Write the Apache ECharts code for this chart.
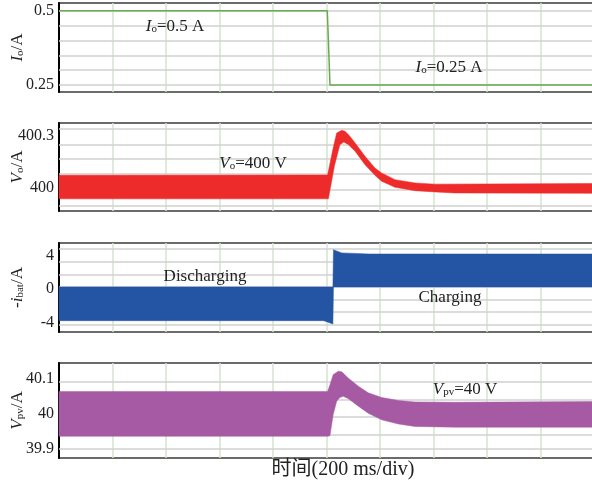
<!DOCTYPE html>
<html>
<head>
<meta charset="utf-8">
<script src="https://cdn.jsdelivr.net/npm/echarts@6/dist/echarts.min.js"></script>
<style>
html, body { margin: 0; padding: 0; background: #fff; }
#main { width: 592px; height: 490px; }
</style>
</head>
<body>
<div id="main"></div>
<script>
// time axis: 0..2000 ms, 200 ms/div
var timeTicks = [0, 2000, 200];

// Io step (A)
var ioData = [[0, 0.5], [1003, 0.5], [1013, 0.25], [2000, 0.25]];

// Vo ripple envelope (V)
var voUpper = [[0, 400.073], [1004, 400.075], [1025, 400.231], [1038, 400.317], [1057, 400.333], [1069, 400.327],
	[1082, 400.308], [1107, 400.26], [1144, 400.183], [1181, 400.115], [1206, 400.087], [1256, 400.048],
	[1331, 400.029], [1406, 400.022], [2000, 400.026]];
var voLower = [[0, 399.937], [1007, 399.937], [1030, 400.13], [1050, 400.25], [1065, 400.265], [1082, 400.25],
	[1107, 400.212], [1144, 400.134], [1181, 400.073], [1206, 400.039], [1256, 400.004], [1331, 399.984],
	[1406, 399.977], [1480, 399.971], [2000, 399.969]];

// -ibat envelope (A)
var ibUpper = [[0, 0.25], [1024, 0.25], [1026, 4.68], [1057, 4.3], [1160, 4.17], [2000, 4.17]];
var ibLower = [[0, -3.77], [990, -3.77], [1024, -4.17], [1026, 0.25], [2000, 0.25]];

// Vpv envelope (V)
var pvUpper = [[0, 40.063], [1004, 40.063], [1013, 40.082], [1025, 40.111], [1044, 40.121], [1057, 40.119],
	[1082, 40.101], [1119, 40.078], [1156, 40.059], [1206, 40.046], [1269, 40.037], [1331, 40.033],
	[1480, 40.032], [2000, 40.034]];
var pvLower = [[0, 39.935], [1006, 39.935], [1013, 39.937], [1025, 39.997], [1038, 40.035], [1050, 40.046],
	[1063, 40.049], [1082, 40.042], [1119, 40.021], [1156, 40.001], [1206, 39.982], [1269, 39.97],
	[1331, 39.963], [1480, 39.961], [2000, 39.961]];

// y ranges, tick labels, horizontal grid lines
var ioRange = [0.2264, 0.5259];
var voRange = [399.867, 400.375];
var ibRange = [-5.119, 5.476];
var pvRange = [39.8729, 40.1443];

var ioLabels = [0.25, 0.5];
var voLabels = [400, 400.3];
var ibLabels = [-4, 0, 4];
var pvLabels = [39.9, 40, 40.1];

var ioGrid = [0.25, 0.3, 0.35, 0.4, 0.45, 0.5];
var voGrid = [399.904, 399.991, 400.078, 400.166, 400.253, 400.340];
var ibGrid = [-4.24, -2.74, -1.25, 0.24, 1.75, 3.25, 4.76];
var pvGrid = [39.896, 39.943, 39.991, 40.039, 40.086];

var SERIF = "'Liberation Serif', 'Times New Roman', 'Noto Sans CJK SC', serif";
var gridTops = [3, 123, 243, 363];
var gridHeights = [89, 88, 89, 95];

var chart = echarts.init(document.getElementById('main'), null, { renderer: 'canvas' });

var nameRich = {
	i: { fontFamily: SERIF, fontSize: 17, fontStyle: 'italic', color: '#222' },
	s: { fontFamily: SERIF, fontSize: 11, color: '#222', padding: [5, 0, 0, 0] },
	n: { fontFamily: SERIF, fontSize: 17, color: '#222' }
};

function makeY(idx, range, labels, name) {
	return {
		type: 'value',
		gridIndex: idx,
		min: range[0],
		max: range[1],
		name: name,
		nameLocation: 'middle',
		nameRotate: 90,
		nameGap: 33,
		nameMoveOverlap: false,
		nameTextStyle: { rich: nameRich },
		axisLine: { show: true, lineStyle: { color: '#000', width: 2 } },
		axisTick: { show: false },
		splitLine: { show: false },
		axisLabel: {
			customValues: labels,
			fontFamily: SERIF,
			fontSize: 16,
			color: '#222',
			margin: 5,
			formatter: function(v) {
				return String(Math.round(v * 100) / 100);
			}
		}
	};
}

function makeX(idx) {
	return {
		type: 'value',
		gridIndex: idx,
		min: timeTicks[0],
		max: timeTicks[1],
		interval: timeTicks[2],
		axisLine: { show: false },
		axisTick: { show: false },
		axisLabel: { show: false },
		splitLine: { show: true, lineStyle: { color: '#d3e4cf', width: 1.5 } }
	};
}

function gridSeries(idx, vals) {
	return {
		type: 'line',
		xAxisIndex: idx,
		yAxisIndex: idx,
		data: [],
		z: 1,
		silent: true,
		markLine: {
			silent: true,
			symbol: ['none', 'none'],
			label: { show: false },
			lineStyle: { color: '#d0d0d0', width: 1.5, type: 'solid' },
			data: vals.map(function(v) { return { yAxis: v }; })
		}
	};
}

// filled ripple band between upper and lower envelopes
function bandSeries(idx, upper, lower, color) {
	return {
		type: 'custom',
		xAxisIndex: idx,
		yAxisIndex: idx,
		z: 5,
		silent: true,
		data: [upper[0]],
		renderItem: function(params, api) {
			var pts = [];
			upper.forEach(function(p) { pts.push(api.coord(p)); });
			lower.slice().reverse().forEach(function(p) { pts.push(api.coord(p)); });
			return {
				type: 'polygon',
				shape: { points: pts },
				style: { fill: color, stroke: color, lineWidth: 0.5 }
			};
		}
	};
}

function label(x, y, text, size) {
	return {
		type: 'text',
		x: x,
		y: y,
		z: 100,
		style: {
			text: text,
			align: 'center',
			verticalAlign: 'middle',
			fontFamily: SERIF,
			fontSize: size || 17,
			fill: '#222',
			rich: nameRich
		}
	};
}

var grids = gridTops.map(function(t, i) {
	return {
		left: 59,
		width: 535,
		top: t,
		height: gridHeights[i],
		containLabel: false,
		outerBoundsMode: 'none',
		show: true,
		borderColor: '#6b6b6b',
		borderWidth: 2
	};
});

var option = {
	animation: false,
	backgroundColor: '#fff',
	grid: grids,
	xAxis: [makeX(0), makeX(1), makeX(2), makeX(3)],
	yAxis: [
		makeY(0, ioRange, ioLabels, '{i|I}{s|o}{n|/A}'),
		makeY(1, voRange, voLabels, '{i|V}{s|o}{n|/A}'),
		makeY(2, ibRange, ibLabels, '{n|-}{i|i}{s|bat}{n|/A}'),
		makeY(3, pvRange, pvLabels, '{i|V}{s|pv}{n|/A}')
	],
	series: [
		gridSeries(0, ioGrid),
		gridSeries(1, voGrid),
		gridSeries(2, ibGrid),
		gridSeries(3, pvGrid),
		{
			type: 'line',
			xAxisIndex: 0,
			yAxisIndex: 0,
			z: 5,
			data: ioData,
			showSymbol: false,
			lineStyle: { color: '#6aaa4f', width: 1.5 }
		},
		bandSeries(1, voUpper, voLower, '#ee2b2b'),
		bandSeries(2, ibUpper, ibLower, '#2455a4'),
		bandSeries(3, pvUpper, pvLower, '#a55aa3')
	],
	graphic: [
		label(175, 27, '{i|I}{s|o}{n|=0.5 A}'),
		label(449, 68, '{i|I}{s|o}{n|=0.25 A}'),
		label(253, 164, '{i|V}{s|o}{n|=400 V}'),
		label(205, 277, 'Discharging'),
		label(450, 298, 'Charging'),
		label(465, 390, '{i|V}{s|pv}{n|=40 V}'),
		label(343, 470, '时间(200 ms/div)', 20)
	]
};

chart.setOption(option);
</script>
</body>
</html>
